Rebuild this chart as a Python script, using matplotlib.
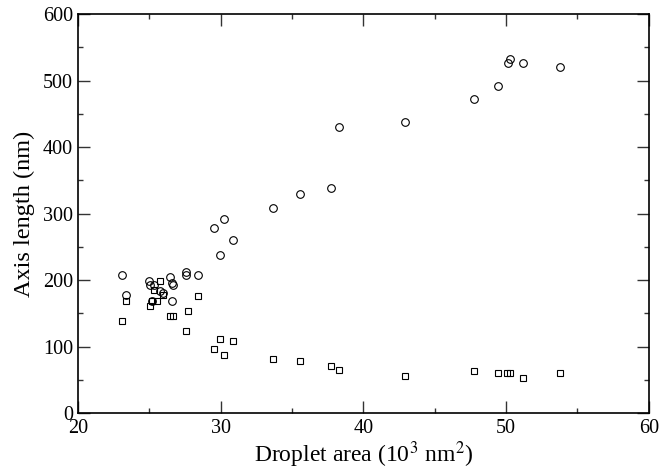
import matplotlib
matplotlib.use("Agg")
import matplotlib.pyplot as plt
from matplotlib.ticker import MultipleLocator

plt.rcParams['font.family'] = ['Liberation Serif', 'DejaVu Serif']
plt.rcParams['mathtext.fontset'] = 'stix'

# Major axis (circles)
area_major = [23.06, 23.4, 24.99, 25.08, 25.3, 25.16, 25.74, 25.98, 26.44, 26.56,
              26.68, 26.56, 27.6, 27.6, 28.43, 29.53, 29.95, 30.25, 30.83, 33.68,
              35.53, 37.72, 38.3, 42.88, 47.74, 49.44, 50.1, 50.24, 51.2, 53.74]
major = [208, 177, 199, 193, 192, 169, 183, 180, 205, 196,
         193, 169, 212, 208, 208, 278, 237, 291, 260, 308,
         329, 339, 430, 438, 472, 492, 526, 532, 526, 520]

# Minor axis (squares)
area_minor = [23.06, 23.4, 25.04, 25.16, 25.3, 25.55, 25.74, 25.98, 26.44, 26.68,
              27.6, 27.68, 28.43, 29.53, 29.95, 30.25, 30.83, 33.68, 35.53, 37.72,
              38.3, 42.88, 47.74, 49.44, 50.03, 50.26, 51.2, 53.74]
minor = [138, 169, 161, 169, 185, 169, 199, 177, 146, 146,
         124, 153, 176, 97, 111, 87, 108, 81, 78, 70,
         64, 56, 63, 60, 60, 60, 52, 60]

fig = plt.figure(figsize=(6.71, 4.75), dpi=100)
ax = fig.add_axes([0.1162, 0.1305, 0.8508, 0.8400])

ax.plot(area_major, major, linestyle='none', marker='o', ms=5.5, mfc='none',
        mec='black', mew=0.8)
ax.plot(area_minor, minor, linestyle='none', marker='s', ms=5, mfc='none',
        mec='black', mew=0.8)

ax.set_xlim(20, 60)
ax.set_ylim(0, 600)
ax.xaxis.set_major_locator(MultipleLocator(10))
ax.xaxis.set_minor_locator(MultipleLocator(5))
ax.yaxis.set_major_locator(MultipleLocator(100))
ax.yaxis.set_minor_locator(MultipleLocator(50))
ax.tick_params(which='both', direction='in', top=True, right=True,
               labelsize=14.5, width=1.0, color='#333333')
ax.tick_params(which='major', length=8.5)
ax.tick_params(which='minor', length=3.8)
ax.tick_params(axis='x', pad=4)
ax.tick_params(axis='y', pad=3.5)
for s in ax.spines.values():
    s.set_linewidth(1.2)

ax.set_xlabel(r'Droplet area (10$^3$ nm$^2$)', fontsize=17, labelpad=1)
ax.set_ylabel('Axis length (nm)', fontsize=17.5, labelpad=6)

fig.savefig('out.png', dpi=100)
